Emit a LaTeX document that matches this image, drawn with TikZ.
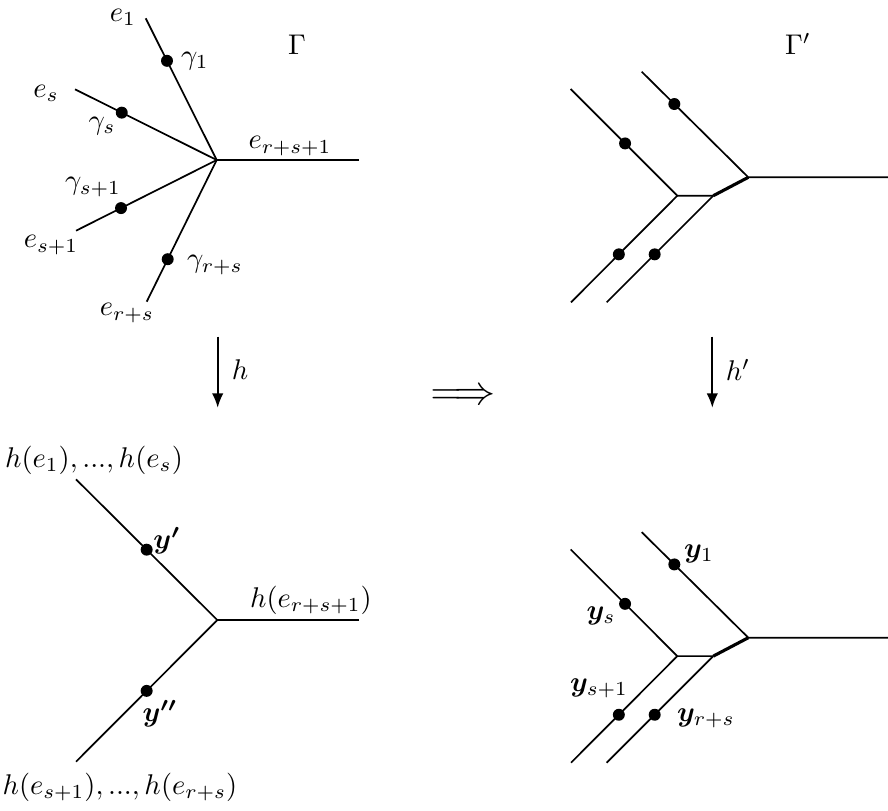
\documentclass[tikz,border=0pt]{standalone}
\usepackage{amsmath,bm}
\usetikzlibrary{calc,arrows.meta}

\tikzset{
  edge/.style={line width=0.6pt},
  mergeedge/.style={line width=1.1pt},
  vdot/.style={circle,fill=black,inner sep=0pt,minimum size=4.2pt},
  maparrow/.style={line width=0.6pt,-{Latex[length=5pt,width=4pt]}},
}

\begin{document}
\begin{tikzpicture}[x=0.351pt,y=-0.351pt]
  \useasboundingbox (0,0) rectangle (888,810);

  % Gamma
  \coordinate (c) at (216.7,160);
  \foreach \name/\x/\y in {e1/145.7/18.3, es/75/89.3, es1/76/230.7, ers/146.7/301.7, erss/359/160}{
    \coordinate (\name) at (\x,\y);
    \draw[edge] (\name) -- (c);
  }
  \foreach \a/\t/\n in {e1/0.3/g1, es/0.33/gs, es1/0.32/gs1, ers/0.3/grs}
    \node[vdot] (\n) at ($(\a)!\t!(c)$) {};
  \node (le1) at (123,17) {$e_1$};
  \node (lg1) at (195,61) {$\gamma_1$};
  \node (lGam) at (297,45) {$\Gamma$};
  \node (les) at (46,93) {$e_s$};
  \node (lgs) at (102,126) {$\gamma_s$};
  \node (lerss) at (290,146) {$e_{r+s+1}$};
  \node (lgs1) at (93,187) {$\gamma_{s+1}$};
  \node (les1) at (51,245) {$e_{s+1}$};
  \node (lgrs) at (215,265) {$\gamma_{r+s}$};
  \node (lers) at (127,313) {$e_{r+s}$};

  % Gamma' and its image
  \foreach \dy/\p in {0/t, 460.4/b}{
    \coordinate (\p-V) at (748.3,177.3+\dy);
    \coordinate (\p-A) at (677.3,195.7+\dy);
    \coordinate (\p-B) at (713.3,195.7+\dy);
    \coordinate (\p-u) at (641.7,71.7+\dy);
    \coordinate (\p-l) at (570.7,89+\dy);
    \coordinate (\p-la) at (571,302.3+\dy);
    \coordinate (\p-lb) at (606.7,302.3+\dy);
    \coordinate (\p-r) at (888,177.3+\dy);
    \draw[edge] (\p-u) -- (\p-V) -- (\p-r);
    \draw[edge] (\p-l) -- (\p-A) -- (\p-B);
    \draw[edge] (\p-la) -- (\p-A);
    \draw[edge] (\p-lb) -- (\p-B);
    \draw[mergeedge] (\p-B) -- (\p-V);
    \node[vdot] (\p-d1) at ($(\p-u)!0.306!(\p-V)$) {};
    \node[vdot] (\p-ds) at ($(\p-l)!0.51!(\p-A)$) {};
    \node[vdot] (\p-ds1) at ($(\p-la)!0.45!(\p-A)$) {};
    \node[vdot] (\p-drs) at ($(\p-lb)!0.45!(\p-B)$) {};
  }
  \node (lGamp) at (798,44) {$\Gamma'$};
  \node (ly1) at (699,554) {$\bm{y}_1$};
  \node (lys) at (601,616) {$\bm{y}_s$};
  \node (lys1) at (599,688) {$\bm{y}_{s+1}$};
  \node (lyrs) at (706,718) {$\bm{y}_{r+s}$};

  % h(Gamma)
  \coordinate (hc) at (217.3,620);
  \foreach \name/\x/\y in {hu/76/479.3, hl/76/761.7, hr/359/620}{
    \coordinate (\name) at (\x,\y);
    \draw[edge] (\name) -- (hc);
  }
  \node[vdot] (yp) at ($(hu)!0.5!(hc)$) {};
  \node[vdot] (ypp) at ($(hl)!0.5!(hc)$) {};
  \node (lhu) at (94,460) {$h(e_1),...,h(e_s)$};
  \node (lyp) at (167,541) {$\bm{y'}$};
  \node (lhr) at (311,600) {$h(e_{r+s+1})$};
  \node (lypp) at (160,714) {$\bm{y''}$};
  \node (lhl) at (120,787) {$h(e_{s+1}),...,h(e_{r+s})$};

  % maps
  \coordinate (ht) at (217.7,336.7);
  \coordinate (hb) at (217.7,407.7);
  \coordinate (hpt) at (712.3,336.7);
  \coordinate (hpb) at (712.3,407.7);
  \draw[maparrow] (ht) -- (hb);
  \draw[maparrow] (hpt) -- (hpb);
  \node (lh) at (240,370) {$h$};
  \node (lhp) at (738,370) {$h'$};
  \node[font=\fontsize{13.5}{16}\selectfont,inner sep=0pt] (impl) at (463,397) {$\Longrightarrow$};
\end{tikzpicture}
\end{document}
